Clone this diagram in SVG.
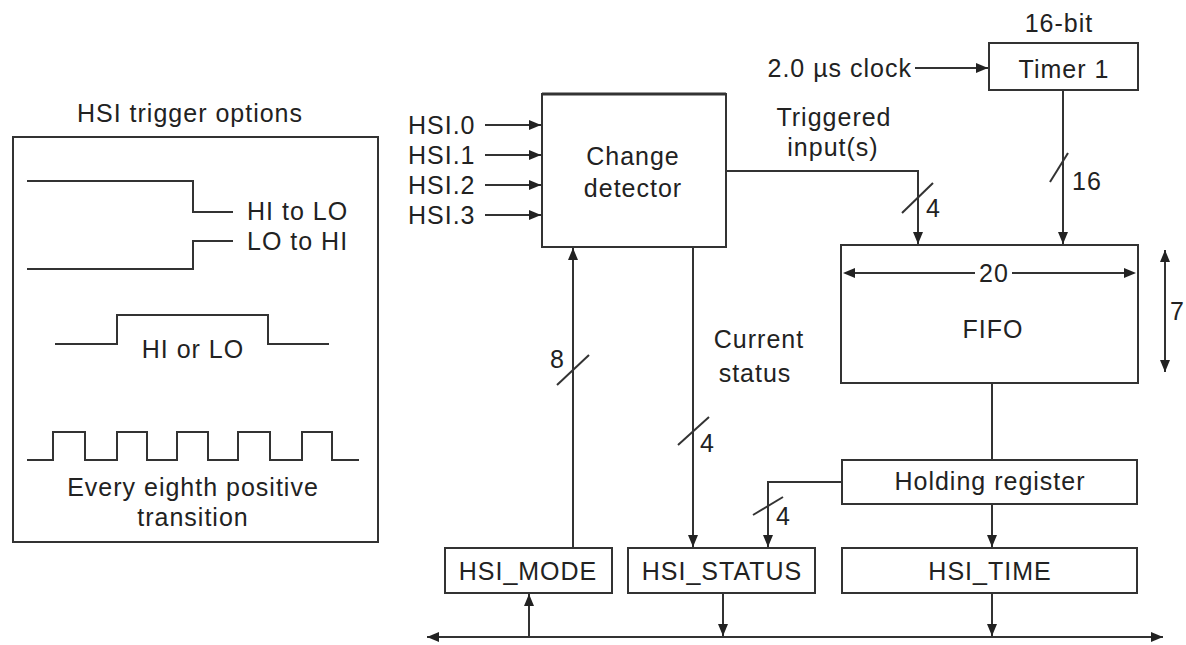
<svg xmlns="http://www.w3.org/2000/svg" width="1186" height="645" viewBox="0 0 1186 645">
<defs>
<style>
text{font-family:"Liberation Sans",Arial,sans-serif;font-size:25px;letter-spacing:1px;fill:#222}
.c{text-anchor:middle}
.e{text-anchor:end}
.box{fill:#fff;stroke:#333;stroke-width:2}
.ln{fill:none;stroke:#333;stroke-width:2}
.ar{fill:none;stroke:#333;stroke-width:2;marker-end:url(#ah)}
.wv{fill:none;stroke:#333;stroke-width:2}
</style>
<marker id="ah" markerUnits="userSpaceOnUse" markerWidth="12" markerHeight="10" refX="12" refY="5" orient="auto-start-reverse" viewBox="0 0 12 10">
<path d="M0,0 L12,5 L0,10 z" fill="#222"/>
</marker>
</defs>
<rect width="1186" height="645" fill="#fff"/>

<g id="trigger-options">
<text class="c" x="190" y="122">HSI trigger options</text>
<rect class="box" x="13" y="137" width="365" height="405"/>
<path class="wv" d="M27,181 H193 V212 H233"/>
<text x="247" y="220">HI to LO</text>
<path class="wv" d="M27,269 H193 V241 H233"/>
<text x="247" y="250">LO to HI</text>
<path class="wv" d="M55,344 H117 V315 H268 V344 H329"/>
<text class="c" x="193" y="358">HI or LO</text>
<path class="wv" d="M27,460 H53 V432 H85 V460 H117 V432 H147 V460 H177 V432 H208 V460 H238 V432 H270 V460 H302 V432 H332 V460 H359"/>
<text class="c" x="193" y="496">Every eighth positive</text>
<text class="c" x="193" y="526">transition</text>
</g>

<g id="change-detector">
<rect class="box" x="542" y="94" width="184" height="153"/>
<line x1="542" y1="94" x2="726" y2="94" stroke="#333" stroke-width="3"/>
<text class="c" x="633" y="165">Change</text>
<text class="c" x="633" y="197">detector</text>
</g>

<g id="timer1">
<rect class="box" x="989" y="43" width="149" height="47"/>
<text class="c" x="1064" y="78">Timer 1</text>
<text class="c" x="1059" y="32">16-bit</text>
</g>

<g id="fifo">
<rect class="box" x="841" y="245" width="297" height="138"/>
<text class="c" x="993" y="338">FIFO</text>
<line x1="853" y1="273" x2="975" y2="273" class="ln"/>
<line x1="1012" y1="273" x2="1126" y2="273" class="ln"/>
<path d="M843,273 L855,268 L855,278 z" fill="#222"/>
<path d="M1136,273 L1124,268 L1124,278 z" fill="#222"/>
<text class="c" x="994" y="282">20</text>
<line class="ln" x1="1165" y1="250" x2="1165" y2="372" marker-start="url(#ah)" marker-end="url(#ah)"/>
<text x="1170" y="320" style="letter-spacing:0">7</text>
</g>

<g id="holding-register">
<rect class="box" x="842" y="460" width="295" height="44"/>
<text class="c" x="990" y="490">Holding register</text>
</g>

<g id="hsi-mode">
<rect class="box" x="445" y="548" width="167" height="45"/>
<text class="c" x="528" y="580">HSI_MODE</text>
</g>

<g id="hsi-status">
<rect class="box" x="628" y="548" width="187" height="45"/>
<text class="c" x="722" y="580">HSI_STATUS</text>
</g>

<g id="hsi-time">
<rect class="box" x="842" y="548" width="295" height="45"/>
<text class="c" x="990" y="580">HSI_TIME</text>
</g>

<g id="connectors">
<line class="ar" x1="485" y1="125" x2="541" y2="125"/>
<line class="ar" x1="485" y1="155" x2="541" y2="155"/>
<line class="ar" x1="485" y1="185" x2="541" y2="185"/>
<line class="ar" x1="485" y1="215" x2="541" y2="215"/>
<text x="408" y="134">HSI.0</text>
<text x="408" y="164">HSI.1</text>
<text x="408" y="194">HSI.2</text>
<text x="408" y="224">HSI.3</text>

<line class="ar" x1="915" y1="68" x2="988" y2="68"/>
<text class="e" x="912" y="77">2.0 µs clock</text>

<path class="ar" d="M726,171 H918 V244"/>
<text class="c" x="834" y="126">Triggered</text>
<text class="c" x="833" y="156">input(s)</text>
<line class="ln" x1="902" y1="213" x2="933" y2="183"/>
<text x="926" y="217">4</text>

<line class="ar" x1="1063" y1="90" x2="1063" y2="244"/>
<line class="ln" x1="1050" y1="182" x2="1068" y2="153"/>
<text x="1072" y="190">16</text>

<line class="ln" x1="992" y1="383" x2="992" y2="460"/>
<line class="ar" x1="992" y1="504" x2="992" y2="547"/>
<line class="ar" x1="992" y1="593" x2="992" y2="636"/>

<line class="ar" x1="573" y1="548" x2="573" y2="248"/>
<line class="ln" x1="557" y1="385" x2="589" y2="355"/>
<text x="550" y="368">8</text>

<line class="ar" x1="693" y1="247" x2="693" y2="547"/>
<line class="ln" x1="678" y1="445" x2="709" y2="417"/>
<text x="700" y="452">4</text>
<text class="c" x="759" y="348">Current</text>
<text class="c" x="755" y="382">status</text>

<path class="ar" d="M842,482 H768 V547"/>
<line class="ln" x1="753" y1="515" x2="783" y2="497"/>
<text x="776" y="525">4</text>

<line class="ln" x1="427" y1="637" x2="1163" y2="637" marker-start="url(#ah)" marker-end="url(#ah)"/>
<line class="ar" x1="529" y1="637" x2="529" y2="594"/>
<line class="ar" x1="723" y1="593" x2="723" y2="636"/>
</g>
</svg>
